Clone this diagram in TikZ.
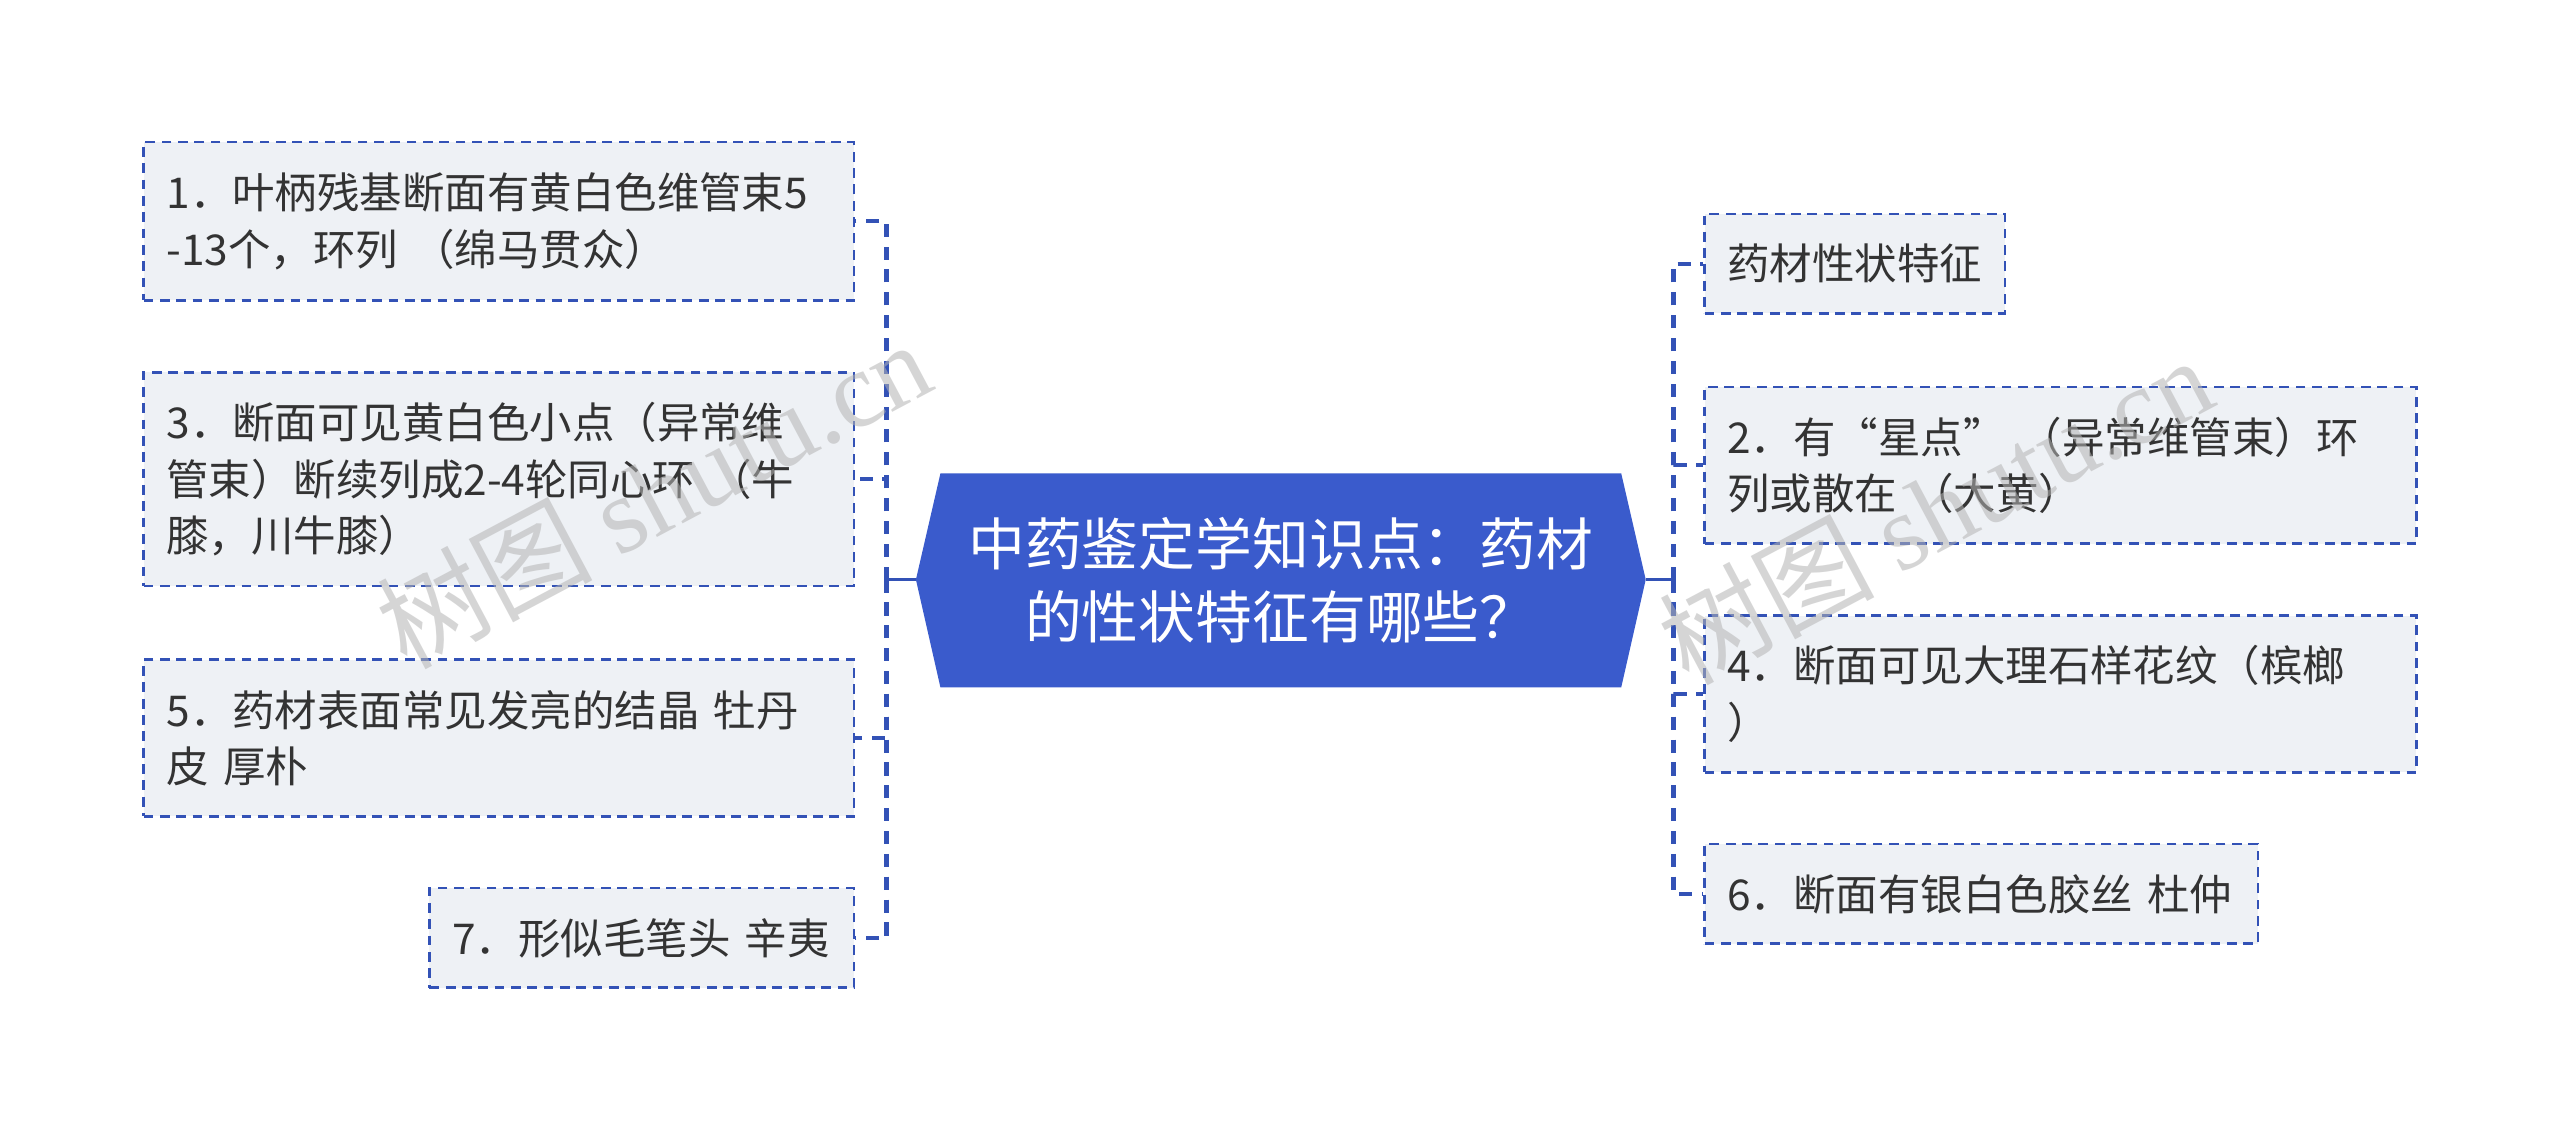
\documentclass[tikz,border=0pt]{standalone}
\usepackage{fontspec}
\setmainfont{Noto Sans CJK SC}
\newfontfamily\wmcjk{Noto Sans CJK SC}
\newfontfamily\wmlat{Liberation Serif}
\definecolor{linec}{HTML}{3352B6}
\definecolor{rootc}{HTML}{3A5BCC}
\definecolor{boxfill}{HTML}{EEF1F5}
\definecolor{txt}{HTML}{333333}
\definecolor{wmc}{HTML}{B4B4B4}
\begin{document}
\begin{tikzpicture}[x=1pt,y=-1pt,
  leaf/.style={rectangle, draw=linec, line width=1.6pt, dash pattern=on 6pt off 4pt,
    fill=boxfill, text=txt, font=\fontsize{26}{34.5}\selectfont, align=left,
    inner xsep=14pt, inner ysep=0pt, anchor=center},
  rootbox/.style={text=white, font=\fontsize{34.8}{45}\selectfont, align=center, inner sep=0pt},
  conn/.style={draw=linec, line width=2.6pt, dash pattern=on 8pt off 6pt},
  solidc/.style={draw=linec, line width=2pt},
  wm/.style={text=wmc, opacity=0.55, rotate=28, inner sep=0pt}]
\useasboundingbox[fill=white] (0,0) rectangle (1568,693);
% root
\coordinate (rootL) at (561,355);
\coordinate (rootR) at (1008,355);
\fill[rootc] (rootL) -- (576,290) -- (993,290) -- (rootR) -- (993,421) -- (576,421) -- cycle;
\node[rootbox] (root) at (784.5,355.5) {中药鉴定学知识点：药材\\的性状特征有哪些？};
\coordinate (busL) at (543,355);
\coordinate (busR) at (1025,355);
% left leaves
\node[leaf, minimum width=435pt, minimum height=97pt, text width=407pt] (l1) at (305.5,135.5)
  {1．叶柄残基断面有黄白色维管束5\\-13个，环列 （绵马贯众）};
\node[leaf, minimum width=435pt, minimum height=131pt, text width=407pt] (l3) at (305.5,293.5)
  {3．断面可见黄白色小点（异常维\\管束）断续列成2-4轮同心环 （牛\\膝，川牛膝）};
\node[leaf, minimum width=435pt, minimum height=96pt, text width=407pt] (l5) at (305.5,452)
  {5．药材表面常见发亮的结晶 牡丹\\皮 厚朴};
\node[leaf, minimum width=260pt, minimum height=61pt, text width=232pt] (l7) at (393,574.5)
  {7．形似毛笔头 辛夷};
% right leaves
\node[leaf, minimum width=184pt, minimum height=61pt, text width=156pt] (r0) at (1136,161.5)
  {药材性状特征};
\node[leaf, minimum width=436pt, minimum height=96pt, text width=408pt] (r2) at (1262,285)
  {2．有“星点” （异常维管束）环\\列或散在 （大黄）};
\node[leaf, minimum width=436pt, minimum height=96pt, text width=408pt] (r4) at (1262,425)
  {4．断面可见大理石样花纹（槟榔\\）};
\node[leaf, minimum width=339pt, minimum height=61pt, text width=311pt] (r6) at (1213.5,547.5)
  {6．断面有银白色胶丝 杜仲};
% connectors
\draw[solidc] (rootL) -- (busL);
\draw[solidc] (rootR) -- (busR);
\draw[conn] (busL) |- (l1.east);
\draw[conn] (busL) |- (l3.east);
\draw[conn] (busL) |- (l5.east);
\draw[conn] (busL) |- (l7.east);
\draw[conn] (busR) |- (r0.west);
\draw[conn] (busR) |- (r2.west);
\draw[conn] (busR) |- (r4.west);
\draw[conn] (busR) |- (r6.west);
% watermarks
\node[wm] (wm1) at (400,302) {\fontsize{66}{66}\selectfont\wmcjk 树图 \wmlat shutu.cn};
\node[wm] (wm2) at (1185,312) {\fontsize{66}{66}\selectfont\wmcjk 树图 \wmlat shutu.cn};
\end{tikzpicture}
\end{document}
